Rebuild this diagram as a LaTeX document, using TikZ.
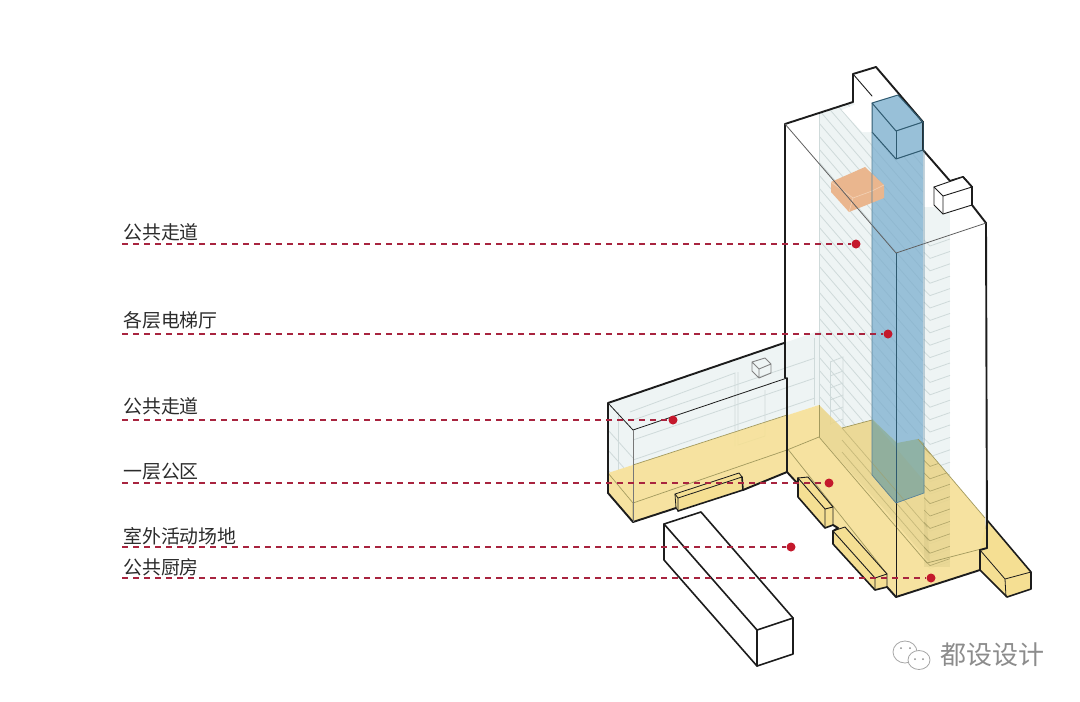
\documentclass[tikz,border=0pt]{standalone}
\usepackage{fontspec}
\setmainfont{Noto Sans CJK SC}
\newfontfamily\wmfont{Noto Sans CJK SC}
\definecolor{ylw}{HTML}{F5DF93}
\definecolor{ylwline}{HTML}{A39A5E}
\definecolor{bluef}{HTML}{98C0D8}
\definecolor{blued}{HTML}{2F5A70}
\definecolor{glass}{HTML}{EEF4F4}
\definecolor{hatch}{HTML}{CFDADA}
\definecolor{redd}{HTML}{A8243F}
\definecolor{redf}{HTML}{C4182C}
\definecolor{ink}{HTML}{1C1C1C}
\definecolor{lbl}{HTML}{2B2B2B}
\definecolor{coreY}{HTML}{8FB2A6}
\definecolor{orangef}{HTML}{EAB68E}
\definecolor{orangel}{HTML}{F3D3B8}
\tikzset{
 heavy/.style={draw=ink,line width=1.9pt,line join=round,line cap=round},
 thin line/.style={draw=ink,line width=.9pt,line join=round,line cap=round},
 yline/.style={draw=ylwline,line width=.7pt},
 hatchline/.style={draw=hatch,line width=.8pt},
 reddash/.style={draw=redd,line width=2pt,dash pattern=on 6pt off 5pt},
 reddot/.style={circle,fill=redf,inner sep=0pt,minimum size=9pt},
 lab/.style={anchor=west,text=lbl,font=\fontsize{18.9pt}{20pt}\selectfont,inner sep=0pt},
}
\begin{document}
\begin{tikzpicture}[x=1pt,y=-1pt]
\useasboundingbox (0,0) rectangle (1080,702);
\fill[white] (0,0) rectangle (1080,702);
% wing glass
\fill[glass] (608,403)--(784,343)--(819,331)--(819,405)--(608,473)--cycle;
\begin{scope}
\clip (608,403)--(784,343)--(819,331)--(819,405)--(608,473)--cycle;
\foreach \k in {0,1,2,3,4}{
 \draw[hatchline] (633,{420+\k*20})--(815,{358+\k*20});
}
\foreach \k in {0,1,2}{
 \draw[hatchline] (608,{430+\k*20})--(633,{458+\k*20});
}
\end{scope}
\draw[hatchline] (630,412)--(735,373)--(735,446);
\draw[hatchline] (738,372)--(738,445)--(765,436)--(765,390);
\draw[hatchline] (633,430)--(633,470);
\draw[hatchline] (618,412)--(618,470);
\draw[hatchline] (814,338)--(814,405);
% tower hatched strip
\fill[glass] (820,113)--(853,102)--(872,125)--(872,420)--(842,428)--(819,405)--cycle;
\begin{scope}
\clip (820,113)--(853,102)--(872,125)--(872,420)--(842,428)--(819,405)--cycle;
\foreach \k in {-4,...,28}{
 \draw[hatchline] (819,{110+\k*13})--(872,{171.5+\k*13});
}
\end{scope}
\draw[hatchline] (819,113)--(819,405);
% ladder in tower strip
\draw[hatchline] (830,362)--(843,357)--(843,430);
\draw[hatchline] (830,362)--(830,425);
\foreach \k in {0,1,2,3,4}{\draw[hatchline] (830,{376+\k*12})--(843,{371+\k*12});}
% white interior under top box
\fill[white] (856,104)--(874,124)--(872,132)--(862,132)--(842,110)--cycle;
% right strip
\fill[glass] (924,207)--(950,207)--(950,567)--(924,567)--cycle;
\foreach \k in {0,...,26}{
 \draw[hatchline] (924,{240+\k*12.4})--(930,{246+\k*12.4})--(950,{239+\k*12.4});
}
% blue core
\fill[bluef] (872,103)--(898,95)--(923,122)--(923,493)--(896,503)--(872,475)--cycle;
\begin{scope}
\clip (872,132)--(896,159)--(923,150)--(923,493)--(896,503)--(872,475)--cycle;
\foreach \k in {-2,...,28}{
 \draw[draw=blued,opacity=.07,line width=.8pt] (872,{120+\k*13})--(923,{179+\k*13});
}
\end{scope}
% orange volume
\fill[orangef] (831,182)--(865,167)--(884,185)--(884,198)--(849,212)--(831,192)--cycle;
\draw[draw=orangel,line width=.6pt] (831,182)--(853,198)--(849,212);
\draw[draw=orangel,line width=.6pt] (853,198)--(872,191)--(884,185);
% yellow ground
\fill[ylw,fill opacity=.88] (608,473)--(819,405)--(842,428)--(872,420)--(918,439)--(985,518)--(987,548)--(980,570)--(896,597)--(887,587)--(875,590)--(833,544)--(833,531)--(838,528)--(833,525)--(825,528)--(798,497)--(798,484)--(787,472)--(743,490)--(676,508)--(633,522)--(608,493)--cycle;
% blue wedge above the core's yellow part
\fill[bluef] (872,419)--(918,438)--(924,445)--(897,443)--cycle;
% core under yellow
\fill[coreY] (872,419)--(897,443)--(918,439)--(924,443)--(924,493)--(896,503)--(872,475)--cycle;
% floor strips under yellow
\begin{scope}
\clip (819,405)--(842,428)--(872,420)--(924,481)--(930,563)--(885,510)--(819,437)--cycle;
\fill[ylwline,opacity=.12] (800,380) rectangle (950,580);
\foreach \k in {0,...,6}{
 \draw[draw=ylwline,opacity=.5,line width=.7pt] (842,{428+\k*12})--(942,{544+\k*12});
}
\end{scope}
\begin{scope}
\clip (924,446)--(950,477)--(950,567)--(924,567)--cycle;
\fill[ylwline,opacity=.12] (924,443) rectangle (950,567);
\foreach \k in {0,...,10}{
 \draw[draw=ylwline,opacity=.75,line width=.7pt] (924,{448+\k*12.4})--(930,{454+\k*12.4})--(950,{447+\k*12.4});
}
\end{scope}
% yellow floor lines
\draw[yline] (633,503)--(787,450)--(819,437)--(927,563)--(985,548);
\draw[yline] (787,448)--(887,574);
\draw[yline] (608,473)--(633,503)--(633,522);
\draw[yline] (819,405)--(819,437);
\draw[yline] (633,465)--(787,415);
\draw[yline] (842,428)--(872,420);
\draw[yline] (918,439)--(985,518);
% boxes on the ground
\path[fill=ylw] (675,494)--(739,473)--(742,477)--(743,490)--(678,511)--(676,508)--cycle;
\draw[heavy,line width=1.6pt] (678,511)--(743,490)--(742,477);
\draw[thin line,line width=.8pt] (675,494)--(739,473)--(742,477)--(678,498)--cycle;
\draw[thin line,line width=.8pt] (678,498)--(678,511) (675,494)--(676,508)--(678,511);
\path[fill=ylw] (798,478)--(808,477)--(833,507)--(833,525)--(825,528)--(798,497)--cycle;
\draw[heavy,line width=1.6pt] (833,525)--(825,528)--(798,497)--(798,478);
\draw[thin line] (798,478)--(808,477)--(833,507)--(833,525);
\draw[thin line] (798,478)--(825,509)--(833,507) (825,509)--(825,528);
\path[fill=ylw] (833,531)--(845,527)--(887,574)--(887,587)--(875,590)--(833,544)--cycle;
\draw[heavy,line width=1.6pt] (887,587)--(875,590)--(833,544)--(833,531);
\draw[thin line] (833,531)--(845,527)--(887,574)--(887,587);
\draw[thin line] (833,531)--(875,578)--(887,574) (875,578)--(875,590);
\path[fill=ylw] (980,550)--(987,520)--(1031,572)--(1031,589)--(1007,597)--(980,570)--cycle;
\draw[heavy,line width=1.6pt] (987,520)--(1031,572)--(1031,589)--(1007,597)--(980,570)--(980,550);
\draw[thin line,line width=.8pt] (980,550)--(1005,579)--(1031,572) (1005,579)--(1006,597);
% outline of the ground floor
\draw[heavy] (608,403)--(784,343);
\draw[heavy] (608,403)--(608,493)--(633,522)--(676,508);
\draw[heavy] (743,490)--(787,472)--(798,484);
\draw[heavy] (833,525)--(838,528)--(833,531);
\draw[heavy] (887,587)--(896,597)--(980,570);
\draw[heavy] (980,550)--(987,548);
% wing edges
\draw[draw=ink,line width=.8pt] (608,403)--(633,430)--(787,378);
\draw[draw=ink!60,line width=.7pt] (633,430)--(633,522);
% tower outline
\draw[heavy] (785,124)--(785,378);
\draw[heavy] (787,378)--(787,472);
\draw[heavy] (785,124)--(853,102)--(853,74)--(876,67)--(923,122)--(923,150)--(950,181);
\draw[heavy] (950,181)--(963,177)--(972,187)--(972,205)--(986,223)--(987,548);
\draw[thin line] (853,74)--(872,96);
\draw[draw=ink!70,line width=.8pt] (785,124)--(896,253)--(986,223);
\draw[draw=blued,line width=.9pt] (896,253)--(896,597);
\draw[draw=ink,line width=1pt] (896,503)--(896,597);
% blue block edges
\draw[draw=blued,line width=1pt,line join=round] (872,103)--(898,95)--(923,122)--(896,131)--cycle;
\draw[draw=blued,line width=1pt,line join=round] (872,103)--(872,132)--(896,159)--(923,150)--(923,122);
\draw[draw=blued,line width=1pt] (896,131)--(896,159);
\draw[draw=blued!60!bluef,line width=.7pt] (872,132)--(872,475)--(896,503)--(924,493)--(924,150);
% small box on top
\fill[white] (934,187)--(963,177)--(972,187)--(972,205)--(943,214)--(934,205)--cycle;
\draw[thin line] (934,187)--(963,177)--(972,187)--(972,205)--(943,214)--(934,205)--cycle;
\draw[thin line] (934,187)--(943,196)--(972,187) (943,196)--(943,214);
\draw[heavy,line width=1.6pt] (963,177)--(972,187)--(972,205);
% mini cube
\draw[draw=ink!55,line width=.9pt,line join=round] (752,362)--(765,358)--(771,364)--(771,373)--(759,378)--(752,371)--cycle (752,362)--(759,369)--(771,364) (759,369)--(759,378);
% detached block
\draw[thin line,line width=1.6pt] (664,524)--(701,512)--(793,618)--(793,654)--(757,666)--(664,560)--cycle;
\draw[thin line,line width=1.6pt] (664,524)--(757,630)--(793,618) (757,630)--(757,666);
% leaders
\foreach \n/\x/\y in {a/856/244,b/888/334,c/673/420,d/829/483,e/791/547,f/931/578}{
 \coordinate (s\n) at (122,\y);
 \node[reddot] (p\n) at (\x,\y) {};
 \draw[reddash] (s\n)--(p\n);
}
\node[lab] (ta) at (123,232) {公共走道};
\node[lab] (tb) at (123,320) {各层电梯厅};
\node[lab] (tc) at (123,406) {公共走道};
\node[lab] (td) at (123,472) {一层公区};
\node[lab] (te) at (123,536) {室外活动场地};
\node[lab] (tf) at (123,567) {公共厨房};
% watermark
\draw[draw=black!35,fill=white,line width=.8pt] (905,652) ellipse (12 and 11);
\draw[draw=black!35,fill=white,line width=.8pt] (919,660) ellipse (11 and 9.5);
\foreach \p in {(901,648),(910,648),(915,659),(923,659)}{\fill[black!45] \p circle (1);}
\node[anchor=west,text=black!45,font=\wmfont\fontsize{26pt}{28pt}\selectfont,inner sep=0pt] (wm) at (940,655) {都设设计};
\end{tikzpicture}
\end{document}
